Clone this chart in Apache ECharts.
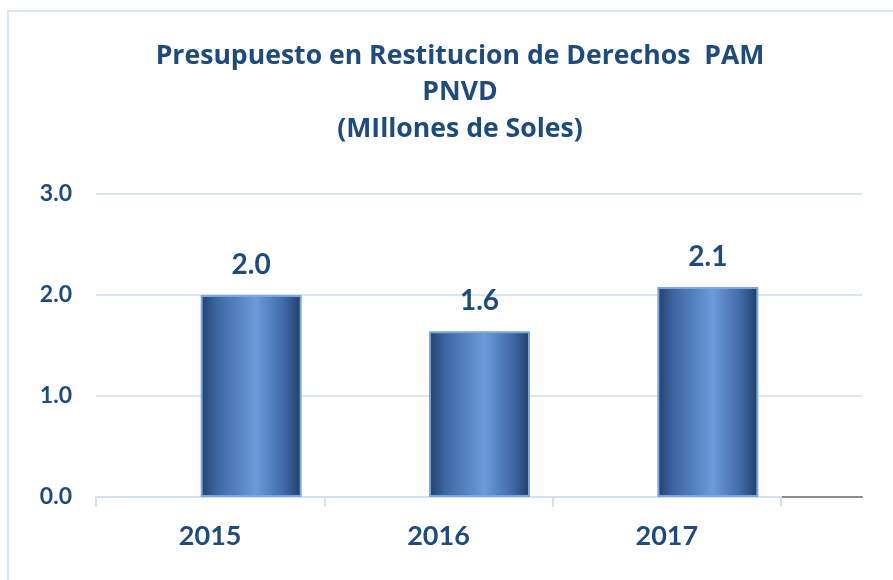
<!DOCTYPE html>
<html>
<head>
<meta charset="utf-8">
<script src="https://cdn.jsdelivr.net/npm/echarts@6/dist/echarts.min.js"></script>
<style>
  html, body { margin: 0; padding: 0; background: #fff; }
  #chart { width: 893px; height: 580px; }
</style>
</head>
<body>
<div id="chart"></div>
<script>
const years = ['2015', '2016', '2017'];
const budget = [2.0, 1.64, 2.08];
const yTicks = [0, 1, 2, 3];

const navy = '#1f4a7c';
const font = 'Lato, "Open Sans", sans-serif';

const chart = echarts.init(document.getElementById('chart'));

const barFill = new echarts.graphic.LinearGradient(0, 0, 1, 0, [
  { offset: 0, color: '#22406a' },
  { offset: 0.15, color: '#3c659e' },
  { offset: 0.55, color: '#6a9bdc' },
  { offset: 0.85, color: '#3d64a0' },
  { offset: 1, color: '#213c63' }
]);

const option = {
  animation: false,
  title: {
    text: 'Presupuesto en Restitucion de Derechos  PAM\nPNVD\n(MIllones de Soles)',
    left: 455,
    textAlign: 'center',
    top: 33,
    textStyle: {
      color: navy,
      fontFamily: '"Open Sans", Lato, sans-serif',
      fontWeight: 'bold',
      fontSize: 26.6,
      lineHeight: 36.5
    }
  },
  graphic: [{
    type: 'rect',
    shape: { x: 8, y: 11, width: 900, height: 600 },
    style: { fill: 'none', stroke: '#dce7f4', lineWidth: 2 },
    silent: true
  }],
  grid: [
    { left: 96, right: 31, top: 194, bottom: 83 },
    { left: 96, right: 112, top: 194, bottom: 83 },
    { left: 137, right: 71, top: 194, bottom: 83 }
  ],
  xAxis: [
    {
      gridIndex: 0, type: 'value', min: 0, max: 1,
      axisLine: { show: true, lineStyle: { color: '#8c8c8c', width: 2 } },
      axisTick: { show: false }, axisLabel: { show: false }, splitLine: { show: false }
    },
    {
      gridIndex: 1, type: 'category', data: years, z: 5,
      axisLine: { show: true, lineStyle: { color: '#d3e1f2', width: 2 } },
      axisTick: { show: true, length: 10, lineStyle: { color: '#d3e1f2', width: 2 } },
      axisLabel: {
        color: navy, fontFamily: font, fontWeight: 'bold', fontSize: 27, margin: 26
      }
    },
    {
      gridIndex: 2, type: 'category', data: years, show: false
    }
  ],
  yAxis: [
    {
      gridIndex: 0, type: 'value', min: yTicks[0], max: yTicks[yTicks.length - 1], interval: 1,
      axisLine: { show: false }, axisTick: { show: false },
      axisLabel: {
        color: navy, fontFamily: font, fontWeight: 'bold', fontSize: 23, margin: 24,
        formatter: v => v.toFixed(1)
      },
      splitLine: { lineStyle: { color: '#dbe6f3', width: 2 } }
    },
    { gridIndex: 1, type: 'value', min: 0, max: 3, show: false },
    { gridIndex: 2, type: 'value', min: 0, max: 3, show: false }
  ],
  series: [{
    type: 'bar',
    xAxisIndex: 2,
    yAxisIndex: 2,
    data: budget,
    barWidth: 101,
    z: 10,
    itemStyle: {
      color: barFill,
      borderColor: '#79a7e0',
      borderWidth: 2
    },
    label: {
      show: true,
      position: 'top',
      distance: 16,
      color: navy,
      fontFamily: font,
      fontWeight: 'bold',
      fontSize: 28,
      formatter: p => p.value.toFixed(1)
    }
  }]
};

chart.setOption(option);
</script>
</body>
</html>
